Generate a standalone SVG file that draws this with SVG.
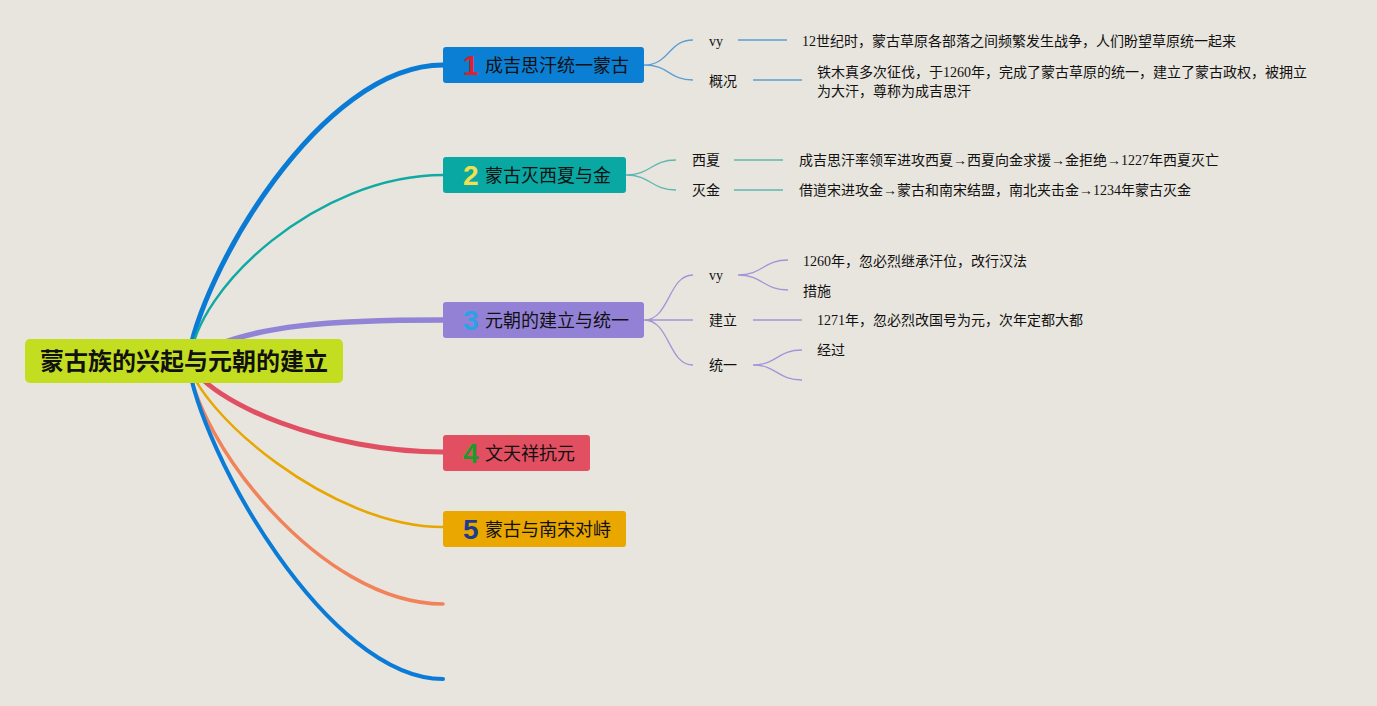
<svg xmlns="http://www.w3.org/2000/svg" width="1377" height="706" viewBox="0 0 1377 706">
<style>
.bg{fill:#e8e5de}
.root{fill:#c3de20}
.rt{font-family:"Noto Sans CJK SC",sans-serif;font-weight:bold;font-size:24px;fill:#111;text-anchor:middle}
.tt{font-family:"Noto Sans CJK SC",sans-serif;font-size:18px;fill:#111}
.num{font-family:"Liberation Sans",Arial,sans-serif;font-weight:bold;font-size:28px}
.lb{font-family:"Liberation Serif","Noto Sans CJK SC",serif;font-size:14px;fill:#111}
.br{fill:none;stroke-linecap:round}
.s1{fill:none;stroke:#5a9fd4;stroke-width:1.3}
.s2{fill:none;stroke:#5db7b1;stroke-width:1.3}
.s3{fill:none;stroke:#a294d8;stroke-width:1.3}
</style>
<rect class="bg" x="0" y="0" width="1377" height="706"/>
<g id="connectors">
  <path class="br" stroke="#0a7bd4" stroke-width="5" d="M188,361 C200,275 320,65 443,65"/>
  <path class="br" stroke="#10a9a4" stroke-width="2.5" d="M190,361 C196,288 318,175 443,175"/>
  <path class="br" stroke="#9183d5" stroke-width="5.5" d="M188,361 C240,322 350,320 443,320"/>
  <path class="br" stroke="#e14f62" stroke-width="5" d="M188,361 C210,405 330,452 443,452"/>
  <path class="br" stroke="#e8a700" stroke-width="2.5" d="M188,361 C198,412 330,527 443,527"/>
  <path class="br" stroke="#f0835a" stroke-width="3.5" d="M188,361 C196,440 320,604 443,604"/>
  <path class="br" stroke="#0a7bd6" stroke-width="4" d="M188,361 C200,452 328,679 443,679"/>
  <path class="s1" d="M644,65 C670,65 668,40 693,40 M644,65 C670,65 668,80 693,80 M738,40 H787 M753,80 H802"/>
  <path class="s2" d="M626,175 C651,175 651,160 676,160 M626,175 C651,175 651,190 676,190 M734,160 H783 M734,190 H783"/>
  <path class="s3" d="M644,320 C670,320 668,275 693,275 M644,320 H693 M644,320 C670,320 668,365 693,365 M738,275 C763,275 763,260 788,260 M738,275 C763,275 763,290 788,290 M753,320 H802 M753,365 C777,365 777,350 802,350 M753,365 C777,365 777,380 802,380"/>
</g>
<g id="root">
  <rect class="root" x="25" y="339" width="318" height="44" rx="5"/>
  <text class="rt" x="184" y="370">蒙古族的兴起与元朝的建立</text>
</g>
<g id="topic1">
  <rect x="443" y="47" width="201" height="36" rx="3" fill="#0b7fd4"/>
  <text class="num" x="463" y="75" fill="#d8232f">1</text>
  <text class="tt" x="485" y="72">成吉思汗统一蒙古</text>
</g>
<g id="topic2">
  <rect x="443" y="157" width="183" height="36" rx="3" fill="#0aa8a3"/>
  <text class="num" x="463" y="185" fill="#f2e050">2</text>
  <text class="tt" x="485" y="182">蒙古灭西夏与金</text>
</g>
<g id="topic3">
  <rect x="443" y="302" width="201" height="36" rx="3" fill="#9381d6"/>
  <text class="num" x="463" y="330" fill="#2aa2e6">3</text>
  <text class="tt" x="485" y="327">元朝的建立与统一</text>
</g>
<g id="topic4">
  <rect x="443" y="435" width="147" height="36" rx="3" fill="#e24f61"/>
  <text class="num" x="463" y="463" fill="#1e9a2c">4</text>
  <text class="tt" x="485" y="460">文天祥抗元</text>
</g>
<g id="topic5">
  <rect x="443" y="511" width="183" height="36" rx="3" fill="#e9a700"/>
  <text class="num" x="463" y="539" fill="#1d3c8e">5</text>
  <text class="tt" x="485" y="536">蒙古与南宋对峙</text>
</g>
<g id="t1-vy"><text class="lb" x="709" y="46">vy</text></g>
<g id="t1-vy-d"><text class="lb" x="802" y="46">12世纪时，蒙古草原各部落之间频繁发生战争，人们盼望草原统一起来</text></g>
<g id="t1-gk"><text class="lb" x="709" y="86">概况</text></g>
<g id="t1-gk-d"><text class="lb" x="817" y="77">铁木真多次征伐，于1260年，完成了蒙古草原的统一，建立了蒙古政权，被拥立</text><text class="lb" x="817" y="96">为大汗，尊称为成吉思汗</text></g>
<g id="t2-xx"><text class="lb" x="692" y="165">西夏</text></g>
<g id="t2-xx-d"><text class="lb" x="799" y="165">成吉思汗率领军进攻西夏→西夏向金求援→金拒绝→1227年西夏灭亡</text></g>
<g id="t2-mj"><text class="lb" x="692" y="195">灭金</text></g>
<g id="t2-mj-d"><text class="lb" x="799" y="195">借道宋进攻金→蒙古和南宋结盟，南北夹击金→1234年蒙古灭金</text></g>
<g id="t3-vy"><text class="lb" x="709" y="280">vy</text></g>
<g id="t3-vy-a"><text class="lb" x="803" y="266">1260年，忽必烈继承汗位，改行汉法</text></g>
<g id="t3-vy-b"><text class="lb" x="803" y="296">措施</text></g>
<g id="t3-jl"><text class="lb" x="709" y="325">建立</text></g>
<g id="t3-jl-d"><text class="lb" x="817" y="325">1271年，忽必烈改国号为元，次年定都大都</text></g>
<g id="t3-ty"><text class="lb" x="709" y="370">统一</text></g>
<g id="t3-ty-a"><text class="lb" x="817" y="355">经过</text></g>
</svg>
